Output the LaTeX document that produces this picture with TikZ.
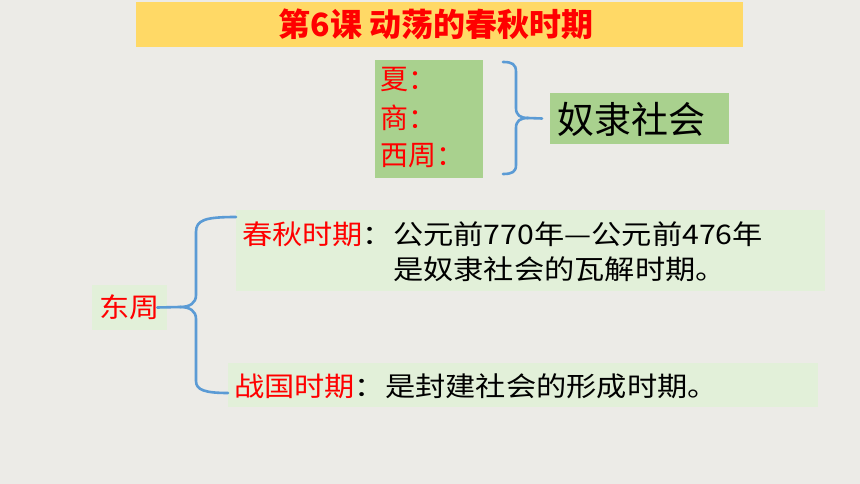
\documentclass[tikz,border=0pt]{standalone}
\usepackage{fontspec}
\newfontfamily\cjk{Noto Sans CJK SC}
\definecolor{bgcol}{RGB}{236,235,231}
\definecolor{titleyellow}{RGB}{255,217,102}
\definecolor{boxgreen}{RGB}{169,209,142}
\definecolor{lightgreen}{RGB}{226,240,217}
\definecolor{braceblue}{RGB}{91,155,213}
\definecolor{redtext}{RGB}{255,0,0}
\newcommand\widetxt[1]{\scalebox{1.12}[1]{#1}}
\begin{document}
\begin{tikzpicture}[x=1pt,y=-1pt,
  panel/.style={inner sep=0pt, outer sep=0pt, anchor=north west},
  txt/.style={inner sep=0pt, outer sep=0pt, anchor=west},
  brace/.style={draw=braceblue, line width=2.6pt, line cap=round, line join=round},
  lower/.style={font=\cjk\fontsize{27}{30}\selectfont},
  early/.style={txt, text=redtext, font=\cjk\fontsize{28}{28}\selectfont}]
\fill[bgcol] (0,0) rectangle (860,484);
\useasboundingbox (0,0) rectangle (860,484);
% title
\node[panel, fill=titleyellow, minimum width=607pt, minimum height=45pt] (titlebar) at (136,2) {};
\node[inner sep=0pt, text=redtext, font=\cjk\bfseries\fontsize{32}{32}\selectfont] (titletext) at (436,24) {第6课 动荡的春秋时期};
% upper left box
\node[panel, fill=boxgreen, minimum width=108pt, minimum height=118pt] (early) at (375,60) {};
\node[early] (xia) at (380,80) {夏：};
\node[early] (shang) at (380,118) {商：};
\node[early] (xizhou) at (380,156) {西周：};
% upper right box
\node[panel, fill=boxgreen, minimum width=179pt, minimum height=51pt] (society) at (550,93) {};
\node[txt, font=\cjk\fontsize{37}{37}\selectfont] (societytext) at (557,119) {奴隶社会};
% upper brace
\coordinate (b1tip) at ([xshift=-8pt]society.west);
\draw[brace] (503,62) .. controls (512,62) and (516,64) .. (516,72) -- (516,108)
  .. controls (516,115) and (520,118) .. (528,118) -- (b1tip);
\draw[brace] (528,118) .. controls (520,118) and (516,121) .. (516,128) -- (516,165)
  .. controls (516,172) and (512,174) .. (503,174);
% dongzhou
\node[fill=lightgreen, inner sep=0pt, minimum width=75pt, minimum height=45pt, text=redtext, lower] (dongzhou) at (129.5,307.5) {\widetxt{东周}};
% chunqiu box
\node[panel, fill=lightgreen, minimum width=589pt, minimum height=81pt] (cqbox) at (236,210) {};
\node[txt, lower] (cqlabel) at (242,234) {\widetxt{\textcolor{redtext}{春秋时期}：}};
\node[txt, lower] (cqdate) at (cqlabel.east) {\widetxt{公元前770年—公元前476年}};
\node[txt, lower] (cqline2) at ([yshift=-35pt]cqdate.west) {\widetxt{是奴隶社会的瓦解时期。}};
% zhanguo box
\node[panel, fill=lightgreen, minimum width=590pt, minimum height=44pt] (zgbox) at (228,363) {};
\node[txt, lower] (zgtext) at (234,386) {\widetxt{\textcolor{redtext}{战国时期}：是封建社会的形成时期。}};
% lower brace
\coordinate (b2tip) at ([xshift=-10pt]dongzhou.east);
\draw[brace] (cqbox.west |- 0,217) .. controls (205,217) and (196,220) .. (196,232) -- (196,295)
  .. controls (196,303) and (190,307) .. (180,307) -- (b2tip);
\draw[brace] (180,307) .. controls (190,307) and (196,311) .. (196,319) -- (196,381)
  .. controls (196,390) and (205,393) .. (zgbox.west |- 0,393);
\end{tikzpicture}
\end{document}
